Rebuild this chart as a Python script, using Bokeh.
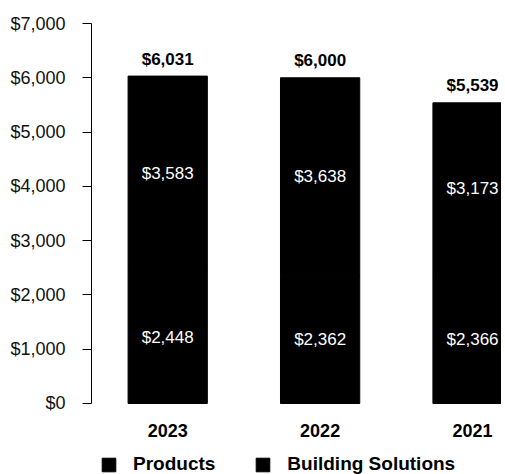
from bokeh.plotting import figure
from bokeh.models import (Range1d, FixedTicker, NumeralTickFormatter, Legend,
                          LegendItem, ColumnDataSource)
from bokeh.core.properties import value
from bokeh.embed import file_html
from bokeh.resources import INLINE

# ---- data ----
years = ["2023", "2022", "2021"]
products = [2448, 2362, 2366]
building_solutions = [3583, 3638, 3173]
totals = [6031, 6000, 5539]
y_ticks = [0, 1000, 2000, 3000, 4000, 5000, 6000, 7000]

FONT = "Liberation Sans"

x = [i + 0.5 for i in range(len(years))]
stack_top = [p + b for p, b in zip(products, building_solutions)]
src = ColumnDataSource(dict(
    x=x,
    years=years,
    zero=[0] * len(years),
    products=products,
    building=building_solutions,
    top=stack_top,
    mid1=[p / 2 for p in products],
    mid2=[p + b / 2 for p, b in zip(products, building_solutions)],
    lab1=["${:,}".format(v) for v in products],
    lab2=["${:,}".format(v) for v in building_solutions],
    total=totals,
    labt=["${:,}".format(v) for v in totals],
))

# frame covers the area below the baseline too, so the legend can sit there
p = figure(width=501, height=474, output_backend="svg", toolbar_location=None,
           x_range=Range1d(0, 2.69), y_range=Range1d(-1308, 7000),
           min_border_left=91, min_border_right=0, min_border_top=23,
           min_border_bottom=0)
p.outline_line_color = None
p.xgrid.grid_line_color = None
p.ygrid.grid_line_color = None
p.background_fill_color = "white"
p.border_fill_color = "white"
p.xaxis.visible = False

r1 = p.vbar(x="x", bottom=0, top="products", width=0.52, source=src,
            fill_color="#000000", line_color="#000000")
r2 = p.vbar(x="x", bottom="products", top="top", width=0.52, source=src,
            fill_color="#000000", line_color="#000000")

p.text(x="x", y="mid1", text="lab1", source=src, text_color="white",
       text_font=value(FONT), text_font_size="17px", text_align="center",
       text_baseline="middle")
p.text(x="x", y="mid2", text="lab2", source=src, text_color="white",
       text_font=value(FONT), text_font_size="17px", text_align="center",
       text_baseline="middle")
p.text(x="x", y="total", text="labt", source=src, text_color="black",
       text_font=value(FONT), text_font_size="17px", text_font_style="bold",
       text_align="center", text_baseline="alphabetic", y_offset=-17)
# category labels under the bars
p.text(x="x", y="zero", text="years", source=src, text_color="black",
       text_font=value(FONT), text_font_size="18px", text_font_style="bold",
       text_align="center", text_baseline="middle", y_offset=27)

# y axis
ya = p.yaxis[0]
ya.bounds = (0, 7000)
ya.ticker = FixedTicker(ticks=y_ticks)
ya.formatter = NumeralTickFormatter(format="$0,0")
ya.major_tick_out = 9
ya.major_tick_in = 0
ya.minor_tick_line_color = None
ya.axis_line_color = "black"
ya.major_tick_line_color = "black"
ya.major_label_standoff = 17
ya.major_label_text_font = FONT
ya.major_label_text_font_size = "18px"
ya.major_label_text_color = "#111111"

legend = Legend(items=[LegendItem(label="Products", renderers=[r1]),
                       LegendItem(label="Building Solutions", renderers=[r2])],
                orientation="horizontal", location=(9, -1),
                glyph_width=17, glyph_height=17, label_height=17,
                label_standoff=16, spacing=39, padding=0, margin=0,
                border_line_color=None, background_fill_alpha=0,
                label_text_font=FONT, label_text_font_size="19px",
                label_text_font_style="bold", label_text_color="black")
p.add_layout(legend, "center")

open("out.html", "w").write(file_html(p, INLINE))
